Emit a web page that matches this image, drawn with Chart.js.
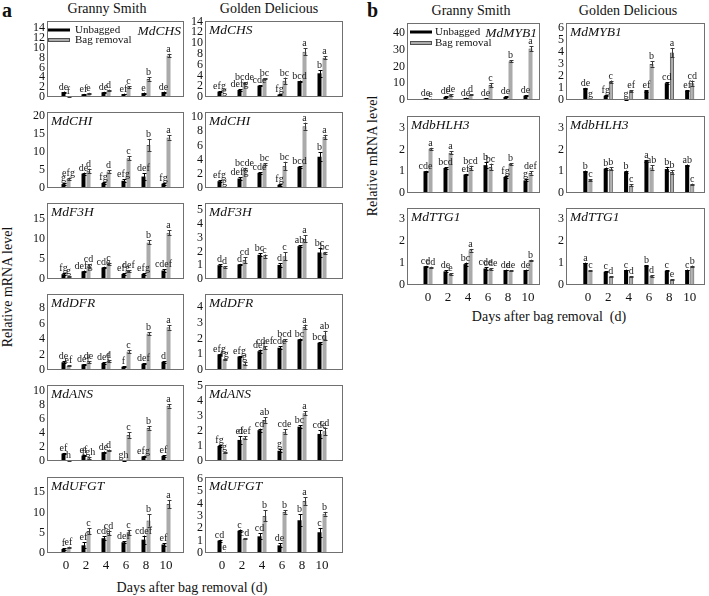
<!DOCTYPE html>
<html><head><meta charset="utf-8">
<script src="https://cdn.jsdelivr.net/npm/chart.js@4/dist/chart.umd.min.js"></script>
<style>
html,body{margin:0;padding:0;background:#fff;}
#wrap{position:relative;width:709px;height:596px;overflow:hidden;font-family:'Liberation Serif','Times New Roman',serif;color:#111;}
#wrap canvas{position:absolute;left:0;top:0;pointer-events:none;}
.t{position:absolute;white-space:nowrap;font-size:14px;line-height:1;transform:translate(-50%,-50%);}
.r{transform:translate(-50%,-50%) rotate(-90deg);}
.p{position:absolute;font-weight:bold;font-size:20px;line-height:1;}
</style></head><body>
<div id="wrap">
  <div class="p" style="left:2px;top:0px;">a</div>
  <div class="p" style="left:367px;top:0px;">b</div>
  <div class="t" style="left:107px;top:9px;">Granny Smith</div>
  <div class="t" style="left:269px;top:9px;">Golden Delicious</div>
  <div class="t" style="left:471px;top:11px;">Granny Smith</div>
  <div class="t" style="left:628px;top:11px;">Golden Delicious</div>
  <div class="t r" style="left:8px;top:287px;">Relative mRNA level</div>
  <div class="t r" style="left:373px;top:156px;">Relative mRNA level</div>
  <div class="t" style="left:192px;top:588px;">Days after bag removal (d)</div>
  <div class="t" style="left:549px;top:317px;">Days after bag removal&nbsp;&nbsp;(d)</div>
</div>
<script>
// ---------------- DATA ----------------
const days = [0, 2, 4, 6, 8, 10];

// Panel a - Granny Smith
const aGS_CHS_unbagged = [1.0, 0.55, 0.95, 0.6, 0.8, 1.0];
const aGS_CHS_removal  = [0.12, 0.75, 1.35, 2.0, 3.65, 8.4];
const aGS_CHS_errU = [0.1, 0.08, 0.1, 0.08, 0.1, 0.1];
const aGS_CHS_errR = [0.05, 0.1, 0.15, 0.2, 0.35, 0.35];
const aGS_CHS_letU = ['de','ef','de','ef','e','de'];
const aGS_CHS_letR = ['f','e','d','c','b','a'];
const aGS_CHS_ticks = [0,2,4,6,8,10,12,14];

const aGS_CHI_unbagged = [1.1, 4.0, 1.4, 2.0, 3.2, 1.2];
const aGS_CHI_removal  = [2.6, 4.8, 4.6, 8.3, 12.0, 14.1];
const aGS_CHI_errU = [0.2, 0.3, 0.3, 0.4, 0.9, 0.3];
const aGS_CHI_errR = [0.3, 0.6, 0.3, 0.6, 1.7, 0.6];
const aGS_CHI_letU = ['g','de','fg','efg','def','fg'];
const aGS_CHI_letR = ['efg','d','d','c','b','a'];
const aGS_CHI_ticks = [0,5,10,15,20];

const aGS_F3H_unbagged = [1.2, 1.9, 2.85, 1.25, 1.25, 2.1];
const aGS_F3H_removal  = [0.65, 3.35, 3.7, 2.0, 9.1, 11.5];
const aGS_F3H_errU = [0.2, 0.2, 0.2, 0.2, 0.2, 0.3];
const aGS_F3H_errR = [0.1, 0.3, 0.3, 0.15, 0.5, 0.6];
const aGS_F3H_letU = ['fg','defg','cde','efg','efg','cdef'];
const aGS_F3H_letR = ['g','cd','c','def','b','a'];
const aGS_F3H_ticks = [0,5,10,15];

const aGS_DFR_unbagged = [1.0, 0.72, 0.9, 0.42, 0.8, 1.05];
const aGS_DFR_removal  = [0.55, 1.0, 1.15, 2.4, 4.7, 5.5];
const aGS_DFR_errU = [0.1, 0.05, 0.1, 0.05, 0.05, 0.1];
const aGS_DFR_errR = [0.05, 0.1, 0.1, 0.2, 0.2, 0.3];
const aGS_DFR_letU = ['de','def','def','f','def','d'];
const aGS_DFR_letR = ['ef','de','d','c','b','a'];
const aGS_DFR_ticks = [0,2,4,6,8];

const aGS_ANS_unbagged = [1.05, 0.78, 1.25, 0.1, 0.65, 0.72];
const aGS_ANS_removal  = [0.05, 0.4, 1.55, 3.7, 4.7, 7.85];
const aGS_ANS_errU = [0.1, 0.1, 0.1, 0.05, 0.1, 0.1];
const aGS_ANS_errR = [0.03, 0.1, 0.08, 0.4, 0.25, 0.25];
const aGS_ANS_letU = ['ef','ef','de','gh','efg','ef'];
const aGS_ANS_letR = ['h','fgh','d','c','b','a'];
const aGS_ANS_ticks = [0,2,4,6,8,10];

const aGS_UFGT_unbagged = [1.0, 1.9, 3.65, 2.65, 3.3, 2.1];
const aGS_UFGT_removal  = [1.35, 5.4, 4.85, 5.1, 8.0, 12.1];
const aGS_UFGT_errU = [0.2, 0.7, 0.5, 0.2, 1.0, 0.3];
const aGS_UFGT_errR = [0.2, 0.7, 0.5, 0.6, 1.5, 1.0];
const aGS_UFGT_letU = ['f','ef','cde','def','cdef','ef'];
const aGS_UFGT_letR = ['ef','c','cd','c','b','a'];
const aGS_UFGT_ticks = [0,5,10,15];

// Panel a - Golden Delicious
const aGD_CHS_unbagged = [1.0, 1.3, 2.1, 0.45, 2.95, 4.4];
const aGD_CHS_removal  = [0.2, 2.6, 3.4, 3.0, 8.4, 7.3];
const aGD_CHS_errU = [0.1, 0.15, 0.1, 0.1, 0.1, 0.6];
const aGD_CHS_errR = [0.05, 0.15, 0.1, 0.6, 0.6, 0.3];
const aGD_CHS_letU = ['efg','defg','cde','fg','bcd','b'];
const aGD_CHS_letR = ['g','bcde','bc','bc','a','a'];
const aGD_CHS_ticks = [0,2,4,6,8,10,12,14];

const aGD_CHI_unbagged = [0.96, 1.33, 2.13, 0.45, 2.98, 4.4];
const aGD_CHI_removal  = [0.15, 2.7, 3.35, 3.1, 8.7, 7.2];
const aGD_CHI_errU = [0.1, 0.15, 0.1, 0.1, 0.1, 0.6];
const aGD_CHI_errR = [0.05, 0.15, 0.1, 0.6, 0.5, 0.3];
const aGD_CHI_letU = ['efg','defg','cde','fg','bcd','b'];
const aGD_CHI_letR = ['g','bcde','bc','bc','a','a'];
const aGD_CHI_ticks = [0,2,4,6,8,10];

const aGD_F3H_unbagged = [1.0, 1.05, 1.75, 1.02, 2.38, 1.92];
const aGD_F3H_removal  = [0.88, 1.37, 1.65, 1.65, 2.9, 1.88];
const aGD_F3H_errU = [0.05, 0.05, 0.12, 0.12, 0.05, 0.35];
const aGD_F3H_errR = [0.05, 0.22, 0.12, 0.3, 0.25, 0.08];
const aGD_F3H_letU = ['d','d','bc','d','ab','bc'];
const aGD_F3H_letR = ['d','cd','c','c','a','bc'];
const aGD_F3H_ticks = [0,1,2,3,4,5];

const aGD_DFR_unbagged = [1.0, 0.86, 1.2, 1.42, 1.95, 1.74];
const aGD_DFR_removal  = [0.68, 0.4, 1.42, 1.9, 2.75, 2.2];
const aGD_DFR_errU = [0.05, 0.03, 0.1, 0.08, 0.06, 0.05];
const aGD_DFR_errR = [0.05, 0.1, 0.1, 0.06, 0.15, 0.3];
const aGD_DFR_letU = ['efg','efg','def','cde','bc','bcd'];
const aGD_DFR_letR = ['fg','g','cdef','bcd','a','ab'];
const aGD_DFR_ticks = [0,1,2,3,4];

const aGD_ANS_unbagged = [1.0, 1.4, 2.05, 0.68, 2.28, 1.8];
const aGD_ANS_removal  = [0.55, 1.55, 2.72, 1.95, 3.17, 1.97];
const aGD_ANS_errU = [0.08, 0.25, 0.1, 0.1, 0.1, 0.25];
const aGD_ANS_errR = [0.05, 0.1, 0.18, 0.15, 0.12, 0.25];
const aGD_ANS_letU = ['fg','ef','cd','g','bc','cde'];
const aGD_ANS_letR = ['g','def','ab','cde','a','cd'];
const aGD_ANS_ticks = [0,1,2,3,4,5];

const aGD_UFGT_unbagged = [1.0, 1.8, 1.35, 0.62, 2.65, 1.68];
const aGD_UFGT_removal  = [0.08, 1.15, 3.0, 3.32, 4.2, 3.18];
const aGD_UFGT_errU = [0.08, 0.1, 0.25, 0.15, 0.5, 0.35];
const aGD_UFGT_errR = [0.02, 0.05, 0.45, 0.15, 0.3, 0.15];
const aGD_UFGT_letU = ['cd','c','cd','de','b','c'];
const aGD_UFGT_letR = ['e','cd','b','b','a','b'];
const aGD_UFGT_ticks = [0,1,2,3,4,5,6];

// Panel b - Granny Smith
const bGS_MYB1_unbagged = [1.0, 1.8, 1.2, 0.8, 1.8, 2.6];
const bGS_MYB1_removal  = [0.6, 3.0, 3.0, 8.9, 23.2, 30.7];
const bGS_MYB1_errU = [0.2, 0.3, 0.2, 0.2, 0.3, 0.4];
const bGS_MYB1_errR = [0.2, 0.4, 0.3, 1.3, 0.6, 1.5];
const bGS_MYB1_letU = ['de','de','de','de','de','de'];
const bGS_MYB1_letR = ['e','de','d','c','b','a'];
const bGS_MYB1_ticks = [0,10,20,30,40];

const bGS_bHLH3_unbagged = [1.0, 1.15, 0.85, 1.28, 0.74, 0.58];
const bGS_bHLH3_removal  = [2.03, 1.85, 1.15, 1.2, 1.33, 0.92];
const bGS_bHLH3_errU = [0.02, 0.03, 0.03, 0.15, 0.06, 0.05];
const bGS_bHLH3_errR = [0.05, 0.07, 0.1, 0.15, 0.05, 0.07];
const bGS_bHLH3_letU = ['cde','bcd','ef','b','fg','g'];
const bGS_bHLH3_letR = ['a','a','bcd','bc','b','def'];
const bGS_bHLH3_ticks = [0,1,2,3];

const bGS_TTG1_unbagged = [0.85, 0.62, 0.95, 0.75, 0.68, 0.68];
const bGS_TTG1_removal  = [0.8, 0.5, 1.58, 0.73, 0.66, 1.12];
const bGS_TTG1_errU = [0.02, 0.05, 0.07, 0.05, 0.02, 0.02];
const bGS_TTG1_errR = [0.03, 0.03, 0.06, 0.03, 0.02, 0.03];
const bGS_TTG1_letU = ['cd','de','bc','cde','de','de'];
const bGS_TTG1_letR = ['cd','e','a','cde','de','b'];
const bGS_TTG1_ticks = [0,1,2,3];

// Panel b - Golden Delicious
const bGD_MYB1_unbagged = [0.98, 0.35, 0.05, 0.75, 1.4, 0.78];
const bGD_MYB1_removal  = [0.07, 1.5, 0.75, 3.0, 3.95, 1.4];
const bGD_MYB1_errU = [0.03, 0.05, 0.02, 0.08, 0.06, 0.03];
const bGD_MYB1_errR = [0.02, 0.12, 0.05, 0.22, 0.38, 0.22];
const bGD_MYB1_letU = ['de','fg','g','ef','cd','ef'];
const bGD_MYB1_letR = ['g','c','ef','b','a','cd'];
const bGD_MYB1_ticks = [0,1,2,3,4,5,6];

const bGD_bHLH3_unbagged = [1.0, 1.12, 0.98, 1.48, 1.1, 1.28];
const bGD_bHLH3_removal  = [0.6, 1.12, 0.35, 1.17, 0.97, 0.4];
const bGD_bHLH3_errU = [0.03, 0.05, 0.05, 0.04, 0.1, 0.03];
const bGD_bHLH3_errR = [0.04, 0.07, 0.05, 0.1, 0.08, 0.03];
const bGD_bHLH3_letU = ['b','b','b','a','b','ab'];
const bGD_bHLH3_letR = ['c','b','c','ab','b','c'];
const bGD_bHLH3_ticks = [0,1,2,3];

const bGD_TTG1_unbagged = [1.0, 0.6, 0.68, 0.88, 0.65, 0.68];
const bGD_TTG1_removal  = [0.66, 0.38, 0.38, 0.41, 0.25, 0.85];
const bGD_TTG1_errU = [0.02, 0.02, 0.02, 0.02, 0.03, 0.02];
const bGD_TTG1_errR = [0.02, 0.03, 0.03, 0.03, 0.02, 0.03];
const bGD_TTG1_letU = ['a','c','c','b','c','c'];
const bGD_TTG1_letR = ['c','d','d','d','e','b'];
const bGD_TTG1_ticks = [0,1,2,3];

// ---------------- LAYOUT ----------------
const W = 709, H = 596;
const FONT = "'Liberation Serif','Times New Roman',serif";
const aTops = [21, 112, 203, 294, 385, 477], aH = 76;
const bTops = [23, 116, 208], bH = 77;
const colAGS = {L:47, R:184, xmin:-1.9, xmax:11.8};
const colAGD = {L:205, R:343, xmin:-1.7, xmax:12.1};
const colBGS = {L:407, R:540, xmin:-2.1, xmax:11.2};
const colBGD = {L:566, R:705, xmin:-2.15, xmax:11.5};

function P(col, top, h, gene, max, d, opts) {
  return Object.assign({col, T:top, B:top+h, gene, max,
    u:d[0], r:d[1], eu:d[2], er:d[3], lu:d[4], lr:d[5], ticks:d[6]}, opts||{});
}
const panels = [
  P(colAGS, aTops[0], aH, 'MdCHS', 15.4, [aGS_CHS_unbagged,aGS_CHS_removal,aGS_CHS_errU,aGS_CHS_errR,aGS_CHS_letU,aGS_CHS_letR,aGS_CHS_ticks], {geneRight:true, legend:'a'}),
  P(colAGS, aTops[1], aH, 'MdCHI', 21.2, [aGS_CHI_unbagged,aGS_CHI_removal,aGS_CHI_errU,aGS_CHI_errR,aGS_CHI_letU,aGS_CHI_letR,aGS_CHI_ticks]),
  P(colAGS, aTops[2], aH, 'MdF3H', 18.9, [aGS_F3H_unbagged,aGS_F3H_removal,aGS_F3H_errU,aGS_F3H_errR,aGS_F3H_letU,aGS_F3H_letR,aGS_F3H_ticks]),
  P(colAGS, aTops[3], aH, 'MdDFR', 9.8, [aGS_DFR_unbagged,aGS_DFR_removal,aGS_DFR_errU,aGS_DFR_errR,aGS_DFR_letU,aGS_DFR_letR,aGS_DFR_ticks]),
  P(colAGS, aTops[4], aH, 'MdANS', 10.8, [aGS_ANS_unbagged,aGS_ANS_removal,aGS_ANS_errU,aGS_ANS_errR,aGS_ANS_letU,aGS_ANS_letR,aGS_ANS_ticks]),
  P(colAGS, aTops[5], aH, 'MdUFGT', 18.75, [aGS_UFGT_unbagged,aGS_UFGT_removal,aGS_UFGT_errU,aGS_UFGT_errR,aGS_UFGT_letU,aGS_UFGT_letR,aGS_UFGT_ticks], {bottom:true}),
  P(colAGD, aTops[0], aH, 'MdCHS', 14.1, [aGD_CHS_unbagged,aGD_CHS_removal,aGD_CHS_errU,aGD_CHS_errR,aGD_CHS_letU,aGD_CHS_letR,aGD_CHS_ticks]),
  P(colAGD, aTops[1], aH, 'MdCHI', 10.7, [aGD_CHI_unbagged,aGD_CHI_removal,aGD_CHI_errU,aGD_CHI_errR,aGD_CHI_letU,aGD_CHI_letR,aGD_CHI_ticks]),
  P(colAGD, aTops[2], aH, 'MdF3H', 5.5, [aGD_F3H_unbagged,aGD_F3H_removal,aGD_F3H_errU,aGD_F3H_errR,aGD_F3H_letU,aGD_F3H_letR,aGD_F3H_ticks]),
  P(colAGD, aTops[3], aH, 'MdDFR', 4.85, [aGD_DFR_unbagged,aGD_DFR_removal,aGD_DFR_errU,aGD_DFR_errR,aGD_DFR_letU,aGD_DFR_letR,aGD_DFR_ticks]),
  P(colAGD, aTops[4], aH, 'MdANS', 5.05, [aGD_ANS_unbagged,aGD_ANS_removal,aGD_ANS_errU,aGD_ANS_errR,aGD_ANS_letU,aGD_ANS_letR,aGD_ANS_ticks]),
  P(colAGD, aTops[5], aH, 'MdUFGT', 6.15, [aGD_UFGT_unbagged,aGD_UFGT_removal,aGD_UFGT_errU,aGD_UFGT_errR,aGD_UFGT_letU,aGD_UFGT_letR,aGD_UFGT_ticks], {bottom:true}),
  P(colBGS, bTops[0], bH, 'MdMYB1', 46, [bGS_MYB1_unbagged,bGS_MYB1_removal,bGS_MYB1_errU,bGS_MYB1_errR,bGS_MYB1_letU,bGS_MYB1_letR,bGS_MYB1_ticks], {geneRight:true, legend:'b'}),
  P(colBGS, bTops[1], bH, 'MdbHLH3', 3.54, [bGS_bHLH3_unbagged,bGS_bHLH3_removal,bGS_bHLH3_errU,bGS_bHLH3_errR,bGS_bHLH3_letU,bGS_bHLH3_letR,bGS_bHLH3_ticks]),
  P(colBGS, bTops[2], bH, 'MdTTG1', 3.5, [bGS_TTG1_unbagged,bGS_TTG1_removal,bGS_TTG1_errU,bGS_TTG1_errR,bGS_TTG1_letU,bGS_TTG1_letR,bGS_TTG1_ticks], {bottom:true}),
  P(colBGD, bTops[0], bH, 'MdMYB1', 6.4, [bGD_MYB1_unbagged,bGD_MYB1_removal,bGD_MYB1_errU,bGD_MYB1_errR,bGD_MYB1_letU,bGD_MYB1_letR,bGD_MYB1_ticks]),
  P(colBGD, bTops[1], bH, 'MdbHLH3', 3.54, [bGD_bHLH3_unbagged,bGD_bHLH3_removal,bGD_bHLH3_errU,bGD_bHLH3_errR,bGD_bHLH3_letU,bGD_bHLH3_letR,bGD_bHLH3_ticks]),
  P(colBGD, bTops[2], bH, 'MdTTG1', 3.5, [bGD_TTG1_unbagged,bGD_TTG1_removal,bGD_TTG1_errU,bGD_TTG1_errR,bGD_TTG1_letU,bGD_TTG1_letR,bGD_TTG1_ticks], {bottom:true})
];

const BLACK = '#000000', GREY = '#ababab', GREY_EDGE = '#505050', BOX = '#707070';

const panelPlugin = {
  id: 'panelDeco',
  afterDatasetsDraw(chart) {
    const ctx = chart.ctx, ys = chart.scales.y;
    ctx.save();
    chart.data.datasets.forEach((ds, di) => {
      const meta = chart.getDatasetMeta(di);
      meta.data.forEach((bar, i) => {
        const v = ds.data[i], e = ds.errs[i];
        const yTop = ys.getPixelForValue(v + e);
        const yBot = ys.getPixelForValue(Math.max(v - e, 0));
        const x = Math.round(bar.x) + 0.5;
        ctx.strokeStyle = di ? '#3a3a3a' : '#000';
        ctx.lineWidth = 1;
        ctx.beginPath();
        ctx.moveTo(x, yTop); ctx.lineTo(x, yBot);
        ctx.moveTo(x - 2, Math.round(yTop) + 0.5); ctx.lineTo(x + 2, Math.round(yTop) + 0.5);
        ctx.moveTo(x - 2, Math.round(yBot) + 0.5); ctx.lineTo(x + 2, Math.round(yBot) + 0.5);
        ctx.stroke();
        ctx.fillStyle = '#1a1a1a';
        ctx.font = '10px ' + FONT;
        ctx.textAlign = 'center';
        ctx.textBaseline = 'alphabetic';
        ctx.fillText(ds.lets[i], bar.x, yTop - 2);
      });
    });
    ctx.restore();
  },
  afterDraw(chart) {
    const ctx = chart.ctx, a = chart.chartArea, p = chart.options.plugins.panelDeco;
    ctx.save();
    ctx.strokeStyle = BOX; ctx.lineWidth = 1;
    ctx.strokeRect(a.left + 0.5, a.top + 0.5, a.right - a.left - 1, a.bottom - a.top - 1);
    ctx.fillStyle = '#111';
    ctx.font = 'italic 13.5px ' + FONT;
    ctx.textBaseline = 'alphabetic';
    if (p.geneRight) { ctx.textAlign = 'right'; ctx.fillText(p.gene, a.right - 3, a.top + 14); }
    else { ctx.textAlign = 'left'; ctx.fillText(p.gene, a.left + 4, a.top + 13); }
    if (p.legend) {
      const dx = p.legend === 'a' ? 1 : 3;
      const y1 = a.top + 9, y2 = a.top + (p.legend === 'a' ? 19 : 20);
      const x0 = a.left + dx, x1 = x0 + 22;
      ctx.fillStyle = BLACK;
      ctx.fillRect(x0, y1 - 1.5, x1 - x0, 3);
      ctx.fillStyle = GREY; ctx.fillRect(x0, y2 - 1.5, x1 - x0, 3);
      ctx.strokeStyle = GREY_EDGE; ctx.strokeRect(x0 + 0.5, y2 - 2 + 0.5, x1 - x0 - 1, 3);
      ctx.fillStyle = '#111';
      ctx.font = '11px ' + FONT;
      ctx.textAlign = 'left'; ctx.textBaseline = 'middle';
      const ds = chart.data.datasets;
      ctx.fillText(ds[0].label, a.left + 28, y1);
      ctx.fillText(ds[1].label, a.left + 28, y2);
    }
    ctx.restore();
  }
};

const wrap = document.getElementById('wrap');
panels.forEach(p => {
  const cv = document.createElement('canvas');
  cv.width = W; cv.height = H;
  cv.style.width = W + 'px'; cv.style.height = H + 'px';
  wrap.appendChild(cv);
  const yw = 32, xh = p.bottom ? 22 : 0;
  new Chart(cv, {
    type: 'bar',
    data: {
      labels: days,
      datasets: [
        {label: 'Unbagged', data: p.u, errs: p.eu, lets: p.lu, backgroundColor: BLACK, borderWidth: 0,
         categoryPercentage: 0.5, barPercentage: 0.8},
        {label: 'Bag removal', data: p.r, errs: p.er, lets: p.lr, backgroundColor: GREY, borderColor: GREY_EDGE, borderWidth: 1,
         categoryPercentage: 0.5, barPercentage: 0.8}
      ]
    },
    options: {
      responsive: false, animation: false, devicePixelRatio: 1,
      events: [],
      layout: {padding: {left: p.col.L - yw, top: p.T, right: W - p.col.R, bottom: H - p.B - xh}},
      plugins: {legend: {display: false}, tooltip: {enabled: false}, title: {display: false},
        panelDeco: {gene: p.gene, geneRight: !!p.geneRight, legend: p.legend || null}},
      scales: {
        x: {
          type: 'linear', min: p.col.xmin, max: p.col.xmax, offset: false,
          grid: {display: false, offset: false, drawTicks: false}, border: {display: false},
          ticks: {display: !!p.bottom, autoSkip: false, maxRotation: 0, padding: 5,
                  color: '#111', font: {family: FONT, size: 13}},
          afterBuildTicks: s => { s.ticks = days.map(v => ({value: v})); },
          afterFit: s => { s.height = xh; }
        },
        y: {
          min: 0, max: p.max,
          grid: {display: false, drawTicks: false}, border: {display: false},
          ticks: {autoSkip: false, padding: 2, color: '#111', font: {family: FONT, size: 12}},
          afterBuildTicks: s => { s.ticks = p.ticks.map(v => ({value: v})); },
          afterFit: s => { s.width = yw; }
        }
      }
    },
    plugins: [panelPlugin]
  });
});
</script>
</body></html>
